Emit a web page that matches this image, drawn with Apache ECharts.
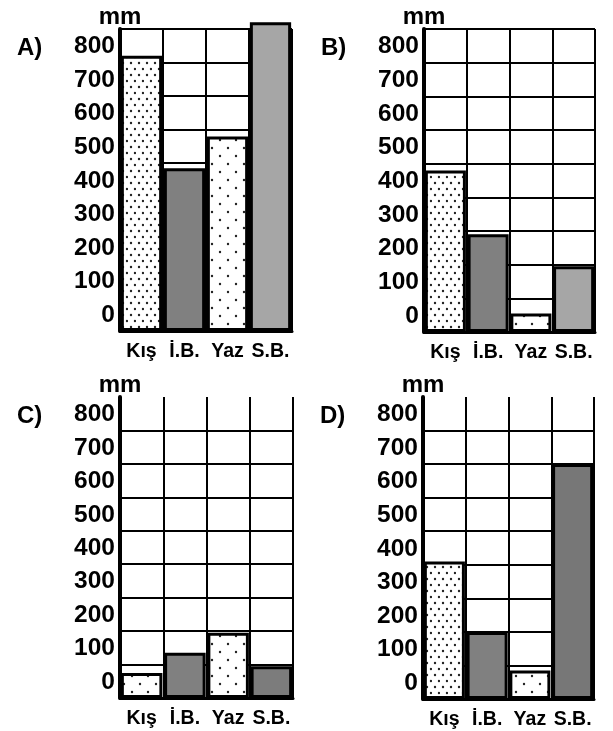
<!DOCTYPE html>
<html>
<head>
<meta charset="utf-8">
<script src="https://cdn.jsdelivr.net/npm/echarts@6/dist/echarts.min.js"></script>
<style>
html,body{margin:0;padding:0;background:#fff;}
#chart{width:613px;height:731px;}
</style>
</head>
<body>
<div id="chart"></div>
<script>
// ---- data ----
var categories = ['Kış', 'İ.B.', 'Yaz', 'S.B.'];
var panelA = [820, 485, 580, 920];
var panelB = [480, 290, 55, 195];
var panelC = [75, 135, 195, 95];
var panelD = [410, 200, 85, 700];
var tickLabels = ['0', '100', '200', '300', '400', '500', '600', '700', '800'];
var panelNames = ['A)', 'B)', 'C)', 'D)'];

// ---- styles ----
function dotPattern(w, h, dots) {
  var c = document.createElement('canvas');
  c.width = w; c.height = h;
  var ctx = c.getContext('2d');
  ctx.fillStyle = '#ffffff';
  ctx.fillRect(0, 0, w, h);
  ctx.fillStyle = '#222222';
  dots.forEach(function (d) { ctx.beginPath(); ctx.arc(d[0], d[1], 1.2, 0, Math.PI * 2); ctx.fill(); });
  return { image: c, repeat: 'repeat' };
}
var denseDots = dotPattern(8, 12, [[3, 3], [7, 9]]);
var sparseDots = dotPattern(16, 16, [[4, 4], [12, 12]]);
var fills = [
  [denseDots, '#808080', sparseDots, '#a6a6a6'],
  [denseDots, '#808080', sparseDots, '#a6a6a6'],
  [sparseDots, '#808080', sparseDots, '#7c7c7c'],
  [denseDots, '#808080', sparseDots, '#777777']
];
var grids = [
  { left: 120, top: 29, width: 172, height: 302 },
  { left: 424, top: 29, width: 171, height: 303 },
  { left: 120, top: 397, width: 173, height: 301 },
  { left: 423, top: 397, width: 171, height: 302 }
];
var showTop = [true, true, false, false];
var panels = [panelA, panelB, panelC, panelD];

var font = 'Liberation Sans, Arial, sans-serif';
var option = { animation: false, backgroundColor: '#fff', grid: [], xAxis: [], yAxis: [], series: [], graphic: [] };

panels.forEach(function (vals, i) {
  option.grid.push(grids[i]);
  option.xAxis.push({
    type: 'category', gridIndex: i, data: categories,
    axisLine: { show: true, lineStyle: { color: '#000', width: 3 } },
    axisTick: { show: false, interval: 0 },
    splitLine: { show: true, interval: 0, lineStyle: { color: '#000', width: 2 } },
    axisLabel: { interval: 0, color: '#000', fontFamily: font, fontWeight: 'bold', fontSize: 19.5, margin: 11 }
  });
  option.yAxis.push({
    type: 'value', gridIndex: i, min: 0, max: 900, interval: 100,
    name: 'mm', nameLocation: 'end', nameGap: 0,
    nameTextStyle: { color: '#000', fontFamily: font, fontWeight: 'bold', fontSize: 24, align: 'center', verticalAlign: 'bottom' },
    axisLine: { show: true, onZero: false, lineStyle: { color: '#000', width: 4 } },
    axisTick: { show: false },
    splitLine: { show: true, showMaxLine: showTop[i], lineStyle: { color: '#000', width: 2 } },
    axisLabel: {
      color: '#000', fontFamily: font, fontWeight: 'bold', fontSize: 24.5, margin: 5,
      verticalAlign: 'bottom', lineHeight: 32,
      formatter: function (v) { var k = Math.round(v / 100); return k < tickLabels.length ? tickLabels[k] : ''; }
    }
  });
  option.series.push({
    type: 'bar', xAxisIndex: i, yAxisIndex: i, clip: false, barWidth: '96%',
    data: vals.map(function (v, j) {
      return { value: v, itemStyle: { color: fills[i][j], borderColor: '#000', borderWidth: 3 } };
    })
  });
  option.graphic.push({
    type: 'text', left: grids[i].left - 103, top: grids[i].top + 7,
    style: { text: panelNames[i], fill: '#000', font: 'bold 24px ' + font }
  });
});

var chart = echarts.init(document.getElementById('chart'), null, { renderer: 'canvas' });
chart.setOption(option);
</script>
</body>
</html>
